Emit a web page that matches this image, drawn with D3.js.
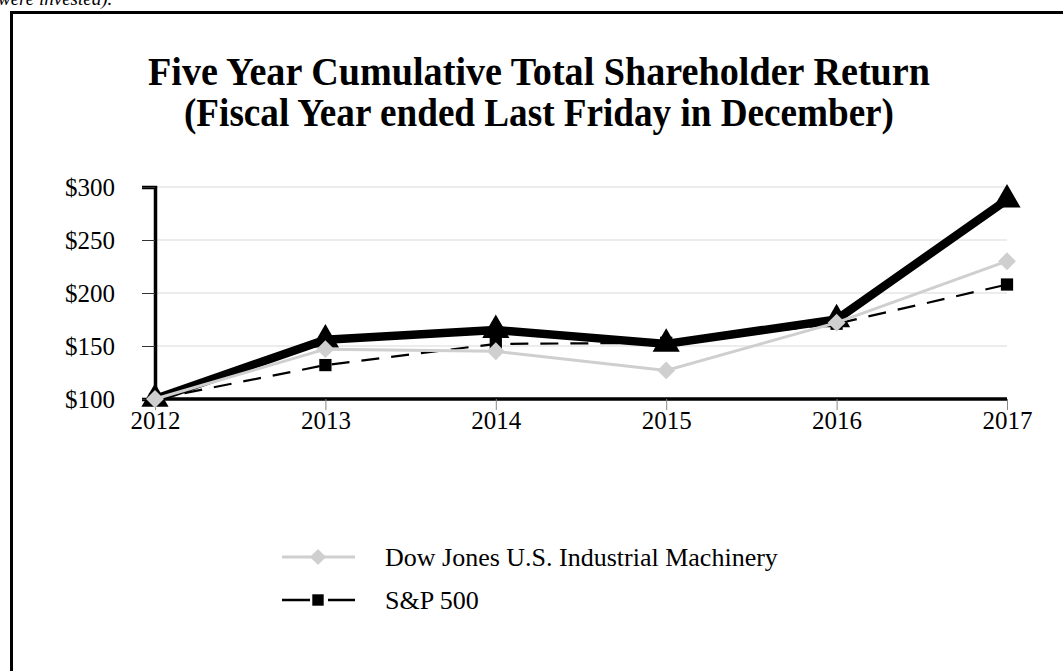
<!DOCTYPE html>
<html>
<head>
<meta charset="utf-8">
<script src="https://cdn.jsdelivr.net/npm/d3@7"></script>
<style>
  body { margin: 0; background: #fff; }
  svg { display: block; font-family: "Liberation Serif", "Times New Roman", serif; }
</style>
</head>
<body>
<svg id="chart" width="1063" height="671"></svg>
<script>
const years = ['2012', '2013', '2014', '2015', '2016', '2017'];
const companyValues = [100, 156, 165, 152, 175, 288];
const dowJonesValues = [100, 147, 145, 127, 172, 230];
const sp500Values = [100, 132, 152, 153, 171, 208];
const yTicks = [100, 150, 200, 250, 300];
const titleLines = ['Five Year Cumulative Total Shareholder Return', '(Fiscal Year ended Last Friday in December)'];
const legendNames = ['Dow Jones U.S. Industrial Machinery', 'S&P 500'];

const svg = d3.select('#chart');
const margin = { left: 155, right: 1007, top: 187, bottom: 399 };

const x = d3.scalePoint(years, [margin.left, margin.right]);
const y = d3.scaleLinear([100, 300], [margin.bottom, margin.top]);

// text above the box, cut by the top edge like in the source
svg.append('text')
  .attr('x', -2).attr('y', 5)
  .attr('font-size', 19).attr('font-style', 'italic')
  .text('were invested).');

// frame (right and bottom edges fall outside the picture)
svg.append('rect')
  .attr('x', 11.5).attr('y', 12.5)
  .attr('width', 1100).attr('height', 700)
  .attr('fill', 'none').attr('stroke', '#000').attr('stroke-width', 3);

// title, condensed bold serif
const titleW = [782, 710];
svg.append('g').selectAll('text')
  .data(titleLines)
  .join('text')
    .attr('x', 539)
    .attr('y', (d, i) => 85 + i * 41)
    .attr('text-anchor', 'middle')
    .attr('font-size', 39)
    .attr('font-weight', 'bold')
    .attr('textLength', (d, i) => titleW[i])
    .attr('lengthAdjust', 'spacingAndGlyphs')
    .text(d => d);

// grid
svg.append('g')
  .selectAll('line')
  .data(yTicks.slice(1))
  .join('line')
    .attr('x1', margin.left).attr('x2', margin.right)
    .attr('y1', d => y(d)).attr('y2', d => y(d))
    .attr('stroke', '#d9d9d9').attr('stroke-width', 1);

// y axis
svg.append('g')
  .attr('transform', `translate(${margin.left},0)`)
  .call(d3.axisLeft(y).tickValues(yTicks).tickSize(13).tickPadding(27).tickFormat(d => '$' + d))
  .call(g => g.select('.domain').attr('stroke', '#000').attr('stroke-width', 3.5))
  .call(g => g.selectAll('.tick line').attr('stroke', '#333'))
  .call(g => g.selectAll('.tick text')
    .attr('font-family', '"Liberation Serif", serif')
    .attr('font-size', 25).attr('fill', '#000'));

// x axis
svg.append('g')
  .attr('transform', `translate(0,${margin.bottom})`)
  .call(d3.axisBottom(x).tickSize(11).tickPadding(1))
  .call(g => g.select('.domain').attr('stroke', '#000').attr('stroke-width', 3.5).attr('d', `M${margin.left},0H${margin.right}`))
  .call(g => g.selectAll('.tick line').attr('stroke', '#888'))
  .call(g => g.selectAll('.tick text')
    .attr('font-family', '"Liberation Serif", serif')
    .attr('font-size', 25).attr('fill', '#000'));

const line = d3.line().x((d, i) => x(years[i])).y(d => y(d));
const sym = (type, size) => d3.symbol(type, size)();

// S&P 500
svg.append('path')
  .attr('d', line(sp500Values))
  .attr('fill', 'none').attr('stroke', '#000').attr('stroke-width', 2.2)
  .attr('stroke-dasharray', '18,12');
svg.append('g').selectAll('path')
  .data(sp500Values)
  .join('path')
    .attr('transform', (d, i) => `translate(${x(years[i])},${y(d)})`)
    .attr('d', sym(d3.symbolSquare, 150))
    .attr('fill', '#000');

// company
svg.append('path')
  .attr('d', line(companyValues))
  .attr('fill', 'none').attr('stroke', '#000').attr('stroke-width', 8.5)
  .attr('stroke-linejoin', 'round');
svg.append('g').selectAll('path')
  .data(companyValues)
  .join('path')
    .attr('transform', (d, i) => `translate(${x(years[i])},${y(d)})`)
    .attr('d', sym(d3.symbolTriangle, 320))
    .attr('fill', '#000');

// Dow Jones
svg.append('path')
  .attr('d', line(dowJonesValues))
  .attr('fill', 'none').attr('stroke', '#cfcfcf').attr('stroke-width', 3);
svg.append('g').selectAll('path')
  .data(dowJonesValues)
  .join('path')
    .attr('transform', (d, i) => `translate(${x(years[i])},${y(d)}) rotate(45)`)
    .attr('d', sym(d3.symbolSquare, 160))
    .attr('fill', '#cfcfcf');

// legend
const legend = svg.append('g');
const rowY = [557, 600];
legend.append('line')
  .attr('x1', 282).attr('x2', 355).attr('y1', rowY[0]).attr('y2', rowY[0])
  .attr('stroke', '#cfcfcf').attr('stroke-width', 3);
legend.append('path')
  .attr('transform', `translate(318,${rowY[0]}) rotate(45)`)
  .attr('d', sym(d3.symbolSquare, 130)).attr('fill', '#cfcfcf');
legend.append('line')
  .attr('x1', 282).attr('x2', 355).attr('y1', rowY[1]).attr('y2', rowY[1])
  .attr('stroke', '#000').attr('stroke-width', 2.5).attr('stroke-dasharray', '28,18');
legend.append('path')
  .attr('transform', `translate(318,${rowY[1]})`)
  .attr('d', sym(d3.symbolSquare, 130)).attr('fill', '#000');
legend.selectAll('text')
  .data(legendNames)
  .join('text')
    .attr('x', 385)
    .attr('y', (d, i) => rowY[i])
    .attr('dy', '0.35em')
    .attr('font-size', 26)
    .text(d => d);
</script>
</body>
</html>
